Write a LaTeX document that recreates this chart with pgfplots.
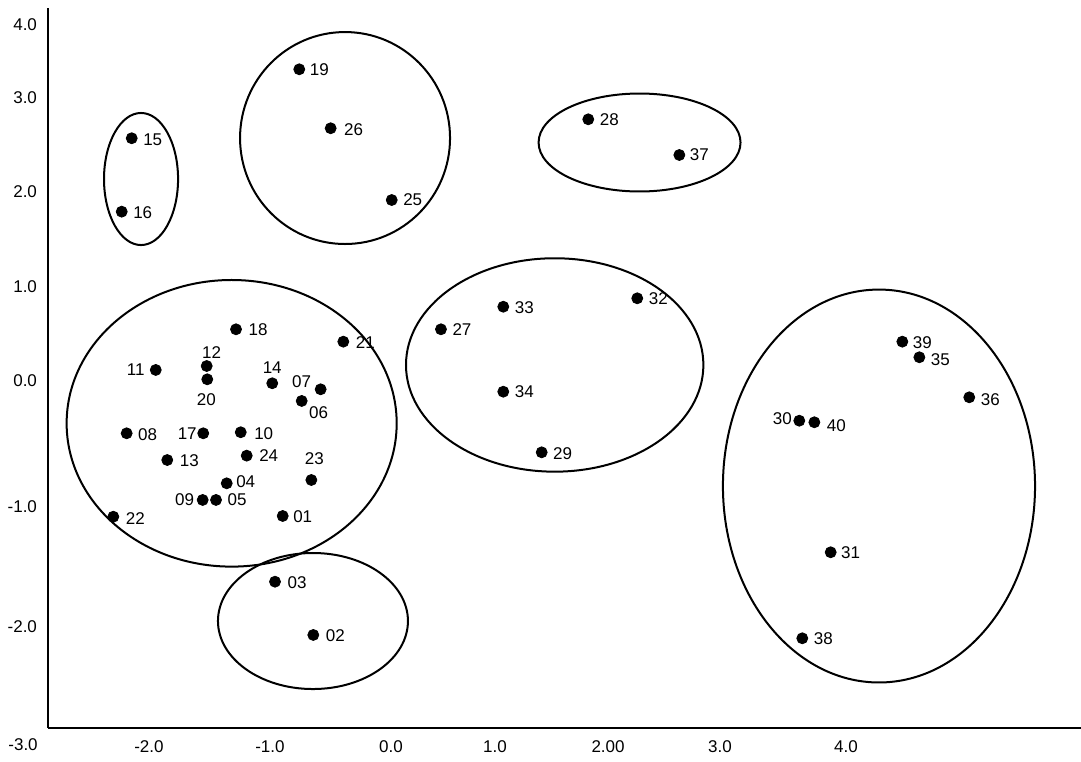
\documentclass[border=0pt]{standalone}
\usepackage{fontspec}
\setmainfont{Liberation Sans}
\usepackage{pgfplots}
\usepackage{pgfplotstable}
\pgfplotsset{compat=1.18}

\pgfplotstableread{
lab x y dx dy
01 -0.846 -1.019 20 -1
02 -0.580 -2.163 22 -1
03 -0.913 -1.651 22 -1
04 -1.333 -0.705 19 2
05 -1.426 -0.865 21 0
06 -0.681 0.087 17 -12
07 -0.516 0.199 -19 8
08 -2.203 -0.224 21 -1
09 -1.542 -0.865 -18 0
10 -1.211 -0.214 23 -1
11 -1.950 0.385 -20 0
12 -1.507 0.423 5 13
13 -1.850 -0.481 22 -1
14 -0.937 0.257 0 16
15 -2.159 2.613 21 -1
16 -2.246 1.907 21 -1
17 -1.537 -0.224 -16 0
18 -1.252 0.776 22 0
19 -0.702 3.276 20 0
20 -1.502 0.295 -1 -20
21 -0.319 0.657 22 -1
22 -2.319 -1.026 22 -2
23 -0.597 -0.673 3 21
24 -1.159 -0.439 22 0
25 0.102 2.019 21 0
26 -0.429 2.709 23 -1
27 0.530 0.776 21 0
28 1.811 2.795 21 0
29 1.406 -0.407 21 -1
30 3.646 -0.103 -17 2
31 3.919 -1.368 20 0
32 2.237 1.074 21 0
33 1.072 0.993 21 -1
34 1.072 0.176 21 0
35 4.690 0.507 21 -2
36 5.124 0.122 21 -2
37 2.603 2.452 20 0
38 3.672 -2.195 21 0
39 4.542 0.657 20 -1
40 3.777 -0.118 22 -3
}\pts

\begin{document}
\begin{tikzpicture}
\begin{axis}[
  scale only axis,
  width=516.5pt, height=360pt,
  xmin=-2.8870, xmax=6.0957,
  ymin=-3.0577, ymax=3.8654,
  axis x line*=bottom, axis y line*=left,
  axis line style={line width=1pt, black},
  major tick length=0pt,
  clip=false,
  xtick={-2.009,-0.957,0.096,1.000,1.983,2.957,4.052},
  xticklabels={-2.0,-1.0,0.0,1.0,2.00,3.0,4.0},
  ytick={-2.087,-0.933,0.279,1.183,2.096,3.0,3.702},
  yticklabels={-2.0,-1.0,0.0,1.0,2.0,3.0,4.0},
  ticklabel style={font=\fontsize{8.5}{10}\selectfont},
  xticklabel style={yshift=-3.0pt},
  yticklabel style={xshift=-2.0pt},
]
\addplot[only marks, mark=*, mark size=2.75pt, black,
  point meta=explicit symbolic,
  visualization depends on={\thisrow{dx} \as \labdx},
  visualization depends on={\thisrow{dy} \as \labdy},
  nodes near coords,
  nodes near coords style={anchor=center, inner sep=0pt,
    font=\fontsize{8.5}{10}\selectfont,
    xshift={\labdx*0.5pt}, yshift={\labdy*0.5pt}},
] table[x=x, y=y, meta=lab] {\pts};

\draw[line width=1pt] (axis cs:-2.078,2.221) ellipse [x radius=0.322, y radius=0.635];
\draw[line width=1pt] (axis cs:-0.304,2.615) ellipse [x radius=0.913, y radius=1.019];
\draw[line width=1pt] (axis cs:2.257,2.572) ellipse [x radius=0.878, y radius=0.471];
\draw[line width=1pt] (axis cs:1.519,0.433) ellipse [x radius=1.293, y radius=1.026];
\draw[line width=1pt] (axis cs:4.339,-0.731) ellipse [x radius=1.357, y radius=1.889];
\draw[line width=1pt] (axis cs:-1.290,-0.128) ellipse [x radius=1.435, y radius=1.378];
\draw[line width=1pt] (axis cs:-0.583,-2.029) ellipse [x radius=0.826, y radius=0.654];

\node[font=\fontsize{8.5}{10}\selectfont, anchor=center, yshift=-8.5pt] at (axis cs:-3.104,-3.0577) {-3.0};

\coordinate (bl) at (rel axis cs:0,0);
\coordinate (tr) at (rel axis cs:1,1);
\end{axis}
\pgfresetboundingbox
\path[use as bounding box] ([shift={(-24pt,-16.5pt)}]bl) rectangle ([shift={(0pt,4pt)}]tr);
\end{tikzpicture}
\end{document}
